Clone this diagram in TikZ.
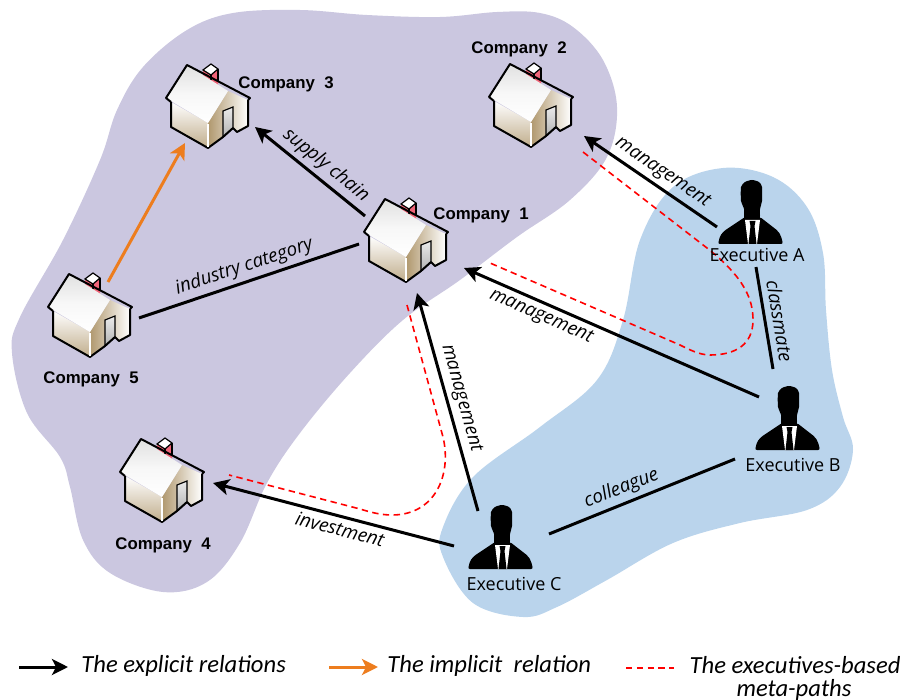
\documentclass[tikz,border=0pt]{standalone}
\usepackage{fontspec}
\usepackage{tikz}
\usetikzlibrary{arrows.meta}
\newfontfamily\companyfont{Liberation Sans}
\newfontfamily\execfont{Open Sans}
\newfontfamily\legendfont{Carlito}
\definecolor{purpleblob}{RGB}{203,199,224}
\definecolor{blueblob}{RGB}{186,212,236}
\definecolor{implicitorange}{RGB}{237,125,30}
\definecolor{walltan}{RGB}{176,152,110}
\definecolor{chimneypink}{RGB}{240,100,120}
\tikzset{
    spot/.style={minimum size=20pt,inner sep=0pt},
    explicitrel/.style={line width=1.5pt,-{Stealth[length=8pt,width=8pt,inset=2pt]}},
    plainrel/.style={line width=1.5pt},
    implicitrel/.style={line width=1.5pt,implicitorange,-{Stealth[length=8pt,width=8pt,inset=2pt]}},
    metapath/.style={red,line width=.8pt,dash pattern=on 3.2pt off 2.2pt},
    company/.style={font=\companyfont\bfseries\fontsize{8.4}{10}\selectfont,inner sep=0pt},
    executive/.style={font=\execfont\fontsize{9}{10}\selectfont,inner sep=0pt},
    rellabel/.style={font=\execfont\itshape\fontsize{9.4}{11}\selectfont,inner sep=1pt,sloped},
    legendtext/.style={font=\legendfont\itshape\fontsize{12.3}{14}\selectfont,inner sep=0pt},
    pics/house/.style={code={
        % chimney behind the roof
        \fill [chimneypink] (-5,-36) -- (-5,-24) -- (10,-20) -- (10,-37) -- cycle;
        \draw [line width=.6pt,fill=white] (3,-42) -- (10,-37) -- (3,-31) -- (-5,-36) -- cycle;
        \draw [line width=.6pt] (10,-37) -- (10,-24) (3,-31) -- (3,-26);
        % walls
        \shade [top color=white,bottom color=walltan!80!white] (-37,-4) -- (0,17) -- (0,42) -- (-37,21) -- cycle;
        \shade [left color=walltan,right color=white] (0,17) -- (20,-15) -- (40,-6) -- (40,20) -- (29,26) -- (25,22) -- (15,31) -- (0,42) -- cycle;
        \shade [top color=white!92!black,bottom color=white!70!black,draw=black,line width=.6pt] (15,5) -- (25,1) -- (25,22) -- (15,31) -- cycle;
        \draw [line width=1pt,line join=round] (-37,-4) -- (-37,21) -- (0,42) -- (15,31) -- (25,22) -- (29,26) -- (40,20) -- (40,-6);
        \draw [white,line width=.7pt] (0,18) -- (0,41);
        % roof
        \shade [top color=white!88!black,bottom color=white,middle color=white!97!black] (-21,-41) -- (-42,-8) -- (0,17) -- (20,-15) -- cycle;
        \draw [line width=1pt,line join=round] (-37,-4) -- (-42,-8) -- (-21,-41) -- (42,-8) -- (40,-6);
    }},
    pics/suit/.style={code={
        % head and neck
        \fill plot [smooth cycle,tension=.4] coordinates {(1,-32) (8,-30) (11,-25) (11,-11) (9,-3) (8,9) (-6,9) (-7,-3) (-10,-11) (-10,-25) (-6,-30)};
        % shoulders
        \fill [rounded corners=1pt] (-6,5) -- (-27,19) -- (-31,24) -- (-33,32) -- (32,32) -- (30,24) -- (27,19) -- (9,5) -- cycle;
        % shirt and tie
        \fill [white] (-6,8) -- (9,8) -- (6,32) -- (-3,32) -- cycle;
        \fill (-1.5,9) -- (4.5,9) -- (3.5,14) -- (5.5,32) -- (-2.5,32) -- (-.5,14) -- cycle;
    }},
}
\begin{document}
\begin{tikzpicture}[x=.5pt,y=-.5pt]
    \useasboundingbox (0,0) rectangle (905,700);
    % Backgrounds:
    \fill [purpleblob] plot [smooth cycle,tension=.6] coordinates {
        (233,13) (300,10) (367,15) (440,17) (497,12) (540,13) (573,27) (603,60) (617,107) (607,157) (570,200)
        (517,237) (460,280) (403,320) (350,373) (300,433) (267,483) (240,543) (207,582) (163,592) (110,573)
        (83,540) (70,487) (60,457) (27,413) (12,353) (20,317) (63,240) (100,160) (117,110) (143,67) (187,30)};
    \fill [blueblob] plot [smooth cycle,tension=.6] coordinates {
        (723,168) (773,177) (807,207) (823,253) (826,310) (832,370) (843,417) (853,450) (840,487) (807,510)
        (740,523) (673,543) (607,580) (557,607) (523,617) (473,603) (443,557) (443,527) (473,477) (540,427)
        (597,380) (623,320) (640,240) (673,187)};

    % Companies and executives:
    \node [spot] (c1) at (406,240) {};
    \node [spot] (c2) at (531,105) {};
    \node [spot] (c3) at (208,106) {};
    \node [spot] (c4) at (162,480) {};
    \node [spot] (c5) at (90,315) {};
    \node [spot] (exA) at (751,212) {};
    \node [spot] (exB) at (788,418) {};
    \node [spot] (exC) at (501,537) {};

    % Meta-paths:
    \draw [metapath] ([shift={(52,47)}]c2.center) -- (707,248) .. controls (745,278) and (753,300) .. (753,320)
        .. controls (753,345) and (735,355) .. (710,355) .. controls (700,355) and (690,350) .. (680,345) -- ([shift={(84,23)}]c1.center);
    \draw [metapath] ([shift={(1,65)}]c1.center) -- (443,437) .. controls (452,475) and (435,515) .. (392,515)
        .. controls (380,515) and (370,512) .. (360,509) -- ([shift={(67,-5)}]c4.center);

    % Relations:
    \draw [explicitrel] ([shift={(-41,-24)}]c1.center) -- node [rellabel,above=1pt,pos=.44] (lSupply) {supply chain} ([shift={(47,21)}]c3.center);
    \draw [plainrel] ([shift={(49,3)}]c5.center) -- node [rellabel,above=1pt,pos=.5] (lIndustry) {industry category} ([shift={(-47,4)}]c1.center);
    \draw [implicitrel] ([shift={(18,-33)}]c5.center) -- ([shift={(-23,37)}]c3.center);
    \draw [explicitrel] ([shift={(-34,15)}]exA.center) -- node [rellabel,above=1pt,pos=.47] (lMgmtA) {management} ([shift={(53,31)}]c2.center);
    \draw [explicitrel] ([shift={(-29,-21)}]exB.center) -- node [rellabel,below=1pt,pos=.72] (lMgmtB) {management} ([shift={(58,28)}]c1.center);
    \draw [explicitrel] ([shift={(-23,-26)}]exC.center) -- node [rellabel,above=1pt,pos=.5] (lMgmtC) {management} ([shift={(11,53)}]c1.center);
    \draw [explicitrel] ([shift={(-47,9)}]exC.center) -- node [rellabel,below=1pt,pos=.46] (lInvest) {investment} ([shift={(51,3)}]c4.center);
    \draw [plainrel] ([shift={(5,55)}]exA.center) -- node [rellabel,above=2pt,pos=.55] (lClass) {classmate} ([shift={(-15,-49)}]exB.center);
    \draw [plainrel] ([shift={(48,-3)}]exC.center) -- node [rellabel,above=1pt,pos=.42] (lColl) {colleague} ([shift={(-53,41)}]exB.center);

    % Pictures:
    \foreach \n in {c1,c2,c3,c4,c5}{%
        \path (\n) pic {house};
    }
    \foreach \n in {exA,exB,exC}{%
        \path (\n) pic {suit};
    }

    % Names:
    \node [company,anchor=west] (nC1) at (433,215) {Company\ \ 1};
    \node [company,anchor=west] (nC2) at (471,49) {Company\ \ 2};
    \node [company,anchor=west] (nC3) at (238,84) {Company\ \ 3};
    \node [company,anchor=west] (nC4) at (115,545) {Company\ \ 4};
    \node [company,anchor=west] (nC5) at (43,379) {Company\ \ 5};
    \node [executive] (nA) at (757,255) {Executive A};
    \node [executive] (nB) at (793,465) {Executive B};
    \node [executive] (nC) at (514,584) {Executive C};

    % Legend:
    \coordinate (lgA) at (19,667);
    \coordinate (lgB) at (68,667);
    \coordinate (lgC) at (329,667);
    \coordinate (lgD) at (378,667);
    \coordinate (lgE) at (626,668);
    \coordinate (lgF) at (674,668);
    \draw [explicitrel] (lgA) -- (lgB);
    \draw [implicitrel] (lgC) -- (lgD);
    \draw [metapath] (lgE) -- (lgF);
    \node [legendtext,anchor=west] (tA) at (81,666) {The explicit relations};
    \node [legendtext,anchor=west] (tB) at (387,666) {The implicit\ \ relation};
    \node [legendtext] (tC) at (795,665) {The executives-based};
    \node [legendtext] (tD) at (794,690) {meta-paths};
\end{tikzpicture}
\end{document}
